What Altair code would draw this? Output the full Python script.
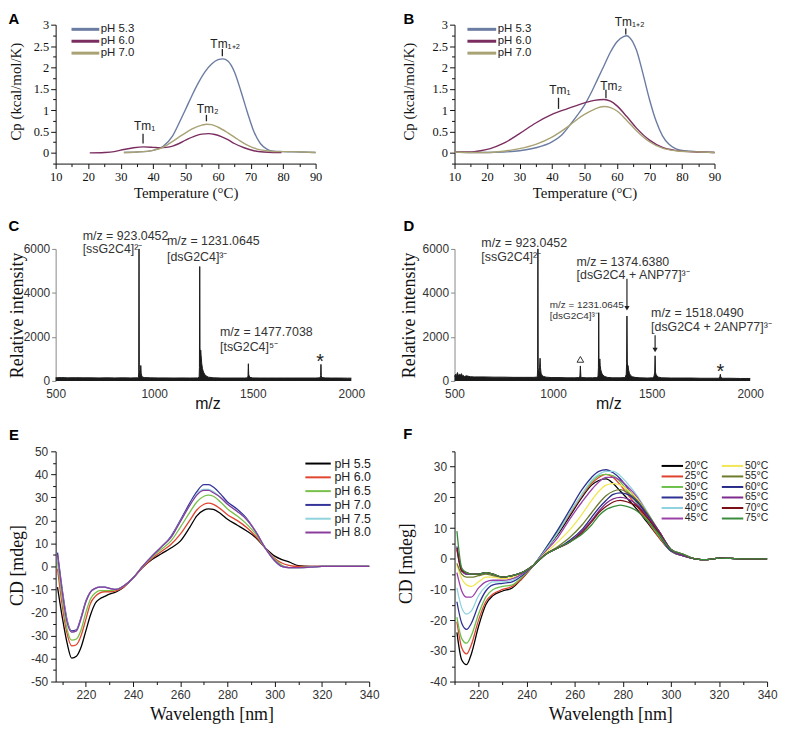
import altair as alt
import pandas as pd

SERIF = "Liberation Serif"
SANS = "Liberation Sans"

# ---------------- Panel A : DSC ----------------
A_labels = ["pH 5.3", "pH 6.0", "pH 7.0"]
A_colors = ["#6b7ca3", "#7b2d60", "#a8a274"]
A_T_53 = [31, 35, 40, 43, 46, 48, 50, 52, 54, 56, 58, 60, 61.5, 63, 65, 67, 69, 71, 73, 75, 77, 80, 85, 90]
A_cp_53 = [0.01, 0.02, 0.06, 0.15, 0.4, 0.7, 1.02, 1.35, 1.65, 1.9, 2.08, 2.18, 2.2, 2.15, 1.9, 1.45, 0.95, 0.5, 0.22, 0.09, 0.04, 0.03, 0.02, 0.01]
A_T_60 = [20.5, 25, 28, 31, 34, 37, 40, 42, 44, 46, 48, 50, 53, 55, 57, 59, 61, 63, 65, 68, 71, 74, 77, 79.5]
A_cp_60 = [0.0, 0.01, 0.03, 0.08, 0.12, 0.14, 0.13, 0.12, 0.13, 0.16, 0.22, 0.3, 0.4, 0.44, 0.45, 0.43, 0.38, 0.31, 0.22, 0.12, 0.05, 0.02, 0.01, 0.01]
A_T_70 = [31, 35, 40, 43, 46, 49, 52, 55, 56.5, 58, 60, 63, 66, 69, 72, 75, 78, 82, 86, 90]
A_cp_70 = [0.01, 0.02, 0.06, 0.13, 0.27, 0.42, 0.56, 0.65, 0.67, 0.66, 0.6, 0.47, 0.32, 0.18, 0.09, 0.05, 0.03, 0.03, 0.02, 0.01]
A_tm_text = ["Tm\u2081", "Tm\u2082", "Tm\u2081\u208a\u2082"]
A_tm_x = [36.9, 56.4, 61.3]
A_tm_y1 = [0.22, 0.74, 2.26]
A_tm_y2 = [0.45, 0.89, 2.43]
A_tml_x = [37.4, 56.8, 62.2]
A_tml_y = [0.64, 1.02, 2.55]

# ---------------- Panel B : DSC ----------------
B_T_53 = [10, 15, 20, 25, 30, 35, 40, 43, 46, 48, 50, 52, 54, 56, 58, 60, 62, 63, 64, 66, 68, 70, 72, 74, 76, 78, 80, 85, 90]
B_cp_53 = [0.02, 0.01, 0.01, 0.02, 0.05, 0.12, 0.26, 0.42, 0.7, 0.9, 1.12, 1.4, 1.72, 2.04, 2.36, 2.6, 2.72, 2.74, 2.69, 2.4, 1.85, 1.25, 0.75, 0.4, 0.2, 0.1, 0.06, 0.03, 0.01]
B_T_60 = [10, 15, 18, 21, 25, 30, 35, 40, 45, 50, 53, 56, 58, 60, 63, 66, 70, 74, 78, 82, 86, 90]
B_cp_60 = [0.02, 0.02, 0.05, 0.1, 0.22, 0.45, 0.7, 0.9, 1.04, 1.17, 1.23, 1.25, 1.21, 1.1, 0.85, 0.58, 0.3, 0.13, 0.06, 0.03, 0.02, 0.01]
B_T_70 = [10, 15, 20, 25, 30, 35, 40, 45, 48, 50, 53, 56, 58, 60, 63, 66, 70, 74, 78, 82, 86, 90]
B_cp_70 = [0.02, 0.01, 0.01, 0.04, 0.1, 0.2, 0.37, 0.62, 0.8, 0.9, 1.02, 1.085, 1.06, 0.98, 0.76, 0.52, 0.26, 0.11, 0.05, 0.03, 0.02, 0.01]
B_tm_x = [42.0, 56.6, 62.7]
B_tm_y1 = [1.03, 1.28, 2.77]
B_tm_y2 = [1.29, 1.48, 2.91]
B_tml_x = [42.4, 58.2, 63.9]
B_tml_y = [1.48, 1.57, 3.05]

# ---------------- Panel C : MS ----------------
C_mz = [500, 530, 560, 600, 640, 680, 720, 760, 800, 840, 880, 915, 920, 921.5, 923, 924.5, 927, 930, 932, 934, 937, 942, 950,
        980, 1020, 1060, 1100, 1140, 1180, 1220, 1228, 1229.5, 1231, 1232.5, 1234, 1236, 1238, 1241, 1245, 1250, 1256, 1264,
        1275, 1300, 1340, 1380, 1420, 1460, 1474, 1476, 1477.7, 1479.5, 1482, 1486, 1500, 1540, 1580, 1620, 1660, 1700, 1740,
        1780, 1820, 1842, 1844.5, 1846, 1847.5, 1850, 1870, 1900, 1940, 1980, 2000]
C_int = [140, 150, 140, 145, 140, 140, 135, 140, 135, 140, 135, 140, 150, 400, 6000, 500, 250, 350, 700, 350, 220, 170, 150,
         140, 135, 135, 130, 135, 130, 135, 160, 600, 5200, 1500, 1100, 1400, 1150, 800, 550, 400, 300, 220,
         170, 140, 130, 130, 130, 130, 140, 250, 780, 300, 220, 160, 135, 130, 130, 130, 130, 130, 130,
         130, 130, 140, 250, 750, 250, 150, 135, 130, 130, 125, 125]
C_ann_text = ["m/z = 923.0452", "[ssG2C4]\u00b2\u207b", "m/z = 1231.0645", "[dsG2C4]\u00b3\u207b", "m/z = 1477.7038", "[tsG2C4]\u2075\u207b"]
C_ann_x = [637, 637, 1065, 1065, 1334, 1334]
C_ann_y = [6586, 6000, 6361, 5652, 2210, 1547]
C_star_x = [1842]
C_star_y = [1037]

# ---------------- Panel D : MS ----------------
D_mz = [500, 505, 510, 515, 520, 525, 530, 535, 540, 545, 550, 560, 580, 600, 650, 700, 750, 800, 850, 900, 915, 920, 921.5,
        923, 924.5, 927, 931, 934, 936, 939, 944, 952, 965, 990, 1030, 1070, 1110, 1130, 1136, 1138.5, 1141, 1146, 1170, 1200,
        1222, 1228, 1230, 1231.5, 1233, 1235, 1237, 1239, 1242, 1247, 1253, 1262, 1275, 1300, 1340, 1366, 1371, 1373, 1374.7,
        1376.5, 1378, 1380, 1383, 1387, 1393, 1402, 1415, 1440, 1480, 1505, 1512, 1515.5, 1517.5, 1519.5, 1522, 1527, 1535,
        1550, 1600, 1650, 1700, 1750, 1800, 1840, 1846, 1848.5, 1851, 1860, 1900, 1950, 2000]
D_int = [200, 300, 250, 380, 220, 300, 260, 330, 220, 250, 200, 230, 190, 180, 180, 170, 170, 160, 160, 160, 170, 200, 500,
         6000, 600, 300, 500, 1030, 600, 350, 250, 200, 170, 150, 150, 140, 140, 150, 200, 680, 200, 150, 140, 140,
         150, 200, 600, 3100, 800, 600, 1000, 700, 500, 350, 260, 200, 160, 140, 140, 150, 300, 800, 2950,
         900, 600, 700, 500, 350, 250, 190, 160, 140, 130, 140, 200, 400, 1140, 400, 300, 220, 170,
         140, 130, 130, 130, 120, 120, 120, 180, 300, 150, 120, 120, 110, 110]
D_ann_text = ["m/z = 923.0452", "[ssG2C4]\u00b2\u207b", "m/z = 1374.6380", "[dsG2C4 + ANP77]\u00b3\u207b",
              "m/z = 1518.0490", "[dsG2C4 + 2ANP77]\u00b3\u207b"]
D_ann_x = [636, 636, 1119, 1119, 1497, 1497]
D_ann_y = [6284, 5639, 5413, 4813, 3067, 2449]
D_small_text = ["m/z = 1231.0645", "[dsG2C4]\u00b3\u207b"]
D_small_x = [983, 983]
D_small_y = [3428, 2946]
D_arrow_x = [1374.7, 1517.5]
D_arrow_top = [4646, 2075]
D_arrow_tip = [3300, 1400]
D_tri_x = [1138.5]
D_tri_y = [979]
D_star_x = [1849]
D_star_y = [573]

# ---------------- Panel E : CD vs pH ----------------
E_labels = ["pH 5.5", "pH 6.0", "pH 6.5", "pH 7.0", "pH 7.5", "pH 8.0"]
E_colors = ["#000000", "#e0452f", "#78c04a", "#34349a", "#8fd3dc", "#8a3c9c"]
E_wl = [208, 210, 212, 214, 216, 218, 220, 222, 224, 226, 228, 230, 233, 236, 240, 244, 248, 252, 256, 260, 264, 267, 270,
        272, 274, 277, 280, 284, 288, 292, 296, 300, 303, 306, 310, 315, 320, 330, 340]
E_55 = [-9, -22, -33, -39.8, -39, -35, -28, -21, -16, -14, -13, -12, -11, -9, -5, -0.5, 3, 5.5, 8, 11, 17, 22, 24.5,
        25, 24.8, 23, 20.5, 18, 15.5, 12.5, 8, 4.5, 3, 2, 0.3, 0, 0, 0, 0]
E_60 = [-1, -17, -29, -34.5, -34, -30, -23, -16, -13, -11.5, -11, -11, -10.5, -9, -5, -0.5, 3.5, 6.5, 9.5, 14, 20, 24.5, 27,
        27.5, 27, 25, 22.5, 20, 17, 13, 8, 3.5, 1.5, 0.5, 0, 0, 0, 0, 0]
E_65 = [2, -14, -27, -32, -31.5, -27.5, -20, -14, -11.5, -10.5, -10.5, -10.5, -10, -8.5, -5, 0, 4, 7.5, 11, 17, 23.5, 28, 30.5,
        31, 30.5, 28, 25, 22, 18.5, 14, 8, 3, 0.5, -0.5, -0.5, -0.2, 0, 0, 0]
E_70 = [6, -10, -23, -28, -27.5, -22, -15, -11, -9.5, -9, -9, -9.5, -10, -8.5, -5, 0, 4.5, 8.5, 13, 20, 27.5, 32.5, 35.5,
        35.5, 34.5, 31.5, 28, 25, 21, 15, 8, 2.5, 0, -0.5, -0.5, -0.3, 0, 0, 0]
E_75 = [4, -11, -23.5, -28.5, -28, -22.5, -15.5, -11, -9.5, -9, -9, -9.5, -10, -8.5, -5, 0, 4.5, 8.5, 12.5, 19.5, 26.5, 31.5,
        33.5, 33.5, 32.5, 30, 27, 24, 20.5, 15, 8, 2.5, 0, -0.5, -0.5, -0.3, 0, 0, 0]
E_80 = [5, -11, -24, -28.5, -28, -22.5, -15.5, -11, -9.5, -9, -9, -9.5, -10, -8.5, -5, 0, 4.5, 8.5, 12.5, 19.5, 26.5, 31,
        33, 33, 32, 30, 27, 24, 20.5, 15, 8, 2.5, 0, -0.5, -0.5, -0.3, 0, 0, 0]

# ---------------- Panel F : CD vs temperature ----------------
F_labels = ["20°C", "25°C", "30°C", "35°C", "40°C", "45°C", "50°C", "55°C", "60°C", "65°C", "70°C", "75°C"]
F_colors = ["#000000", "#e0412f", "#6cc04a", "#2e3192", "#8fd3e0", "#9a40a8",
            "#f2e655", "#6b7b2a", "#262a86", "#7e2b8f", "#7a1015", "#3a8c3c"]
F_wl = [211, 213, 215, 217, 220, 223, 226, 230, 234, 238, 243, 248, 253, 258, 263, 267, 270, 273, 276, 279, 282, 286, 290,
        295, 300, 305, 310, 315, 320, 330, 340]
F_20 = [-24, -33, -34.5, -31, -22, -15, -12, -10.5, -9.5, -6.5, -2, 3, 8, 14, 20, 24, 25.5, 26, 24.5, 22, 19.5, 16, 12, 7, 2.5, 1, 0, -0.3, 0.2, 0, 0]
F_25 = [-20.5, -29, -31, -28, -20, -14, -11.5, -10, -9, -6.5, -2, 3, 8.5, 14.5, 20.5, 24.5, 26.5, 27.5, 26.5, 24, 21, 17, 12.5, 7, 2.5, 1, 0, -0.3, 0.2, 0, 0]
F_30 = [-19, -26, -27.5, -25, -18, -12.5, -10, -9, -8.5, -6, -2, 3.5, 9, 15, 21, 25, 27, 27.5, 27, 25, 22, 18, 13, 7.5, 2.5, 1, 0, -0.3, 0.2, 0, 0]
F_35 = [-14, -21, -23, -21, -15, -10.5, -8.5, -8, -7.5, -5.5, -2, 3.5, 9.5, 16, 22.5, 26.5, 28.5, 29, 28, 26, 23, 19, 14, 8, 2.5, 1, 0, -0.3, 0.2, 0, 0]
F_40 = [-9.5, -16, -18, -17, -12, -9, -7.5, -7.5, -7, -5, -2, 3, 8.5, 15, 21, 25.5, 27.5, 28.5, 28.5, 27, 24.5, 20.5, 15.5, 9, 3, 1, 0, -0.3, 0.2, 0, 0]
F_45 = [-4.5, -10.5, -12.5, -12.5, -9.5, -7.5, -7, -7, -6.5, -5, -2, 2.5, 7, 13, 18.5, 22.5, 25, 26.5, 26.5, 25.5, 23.5, 20, 15, 9, 3, 1, 0, -0.3, 0.2, 0, 0]
F_50 = [-2, -6.5, -8.5, -9, -7.5, -6, -6, -6.5, -6, -4.5, -2, 2, 5.5, 9.5, 14.5, 19, 22, 24, 24.5, 24, 22.5, 19.5, 15, 9, 3, 1, 0, -0.3, 0.2, 0, 0]
F_55 = [-1.5, -5, -6, -6, -5.5, -5, -5.5, -6, -5.5, -4.5, -2, 1.5, 4, 7, 11, 15, 18, 20.5, 22, 22.5, 21.5, 19, 15, 9, 3, 1, 0, -0.3, 0.2, 0, 0]
F_60 = [4, -3.5, -5, -5, -5, -4.5, -5, -6, -5.5, -4.5, -2, 1.5, 3.5, 6, 9.5, 13.5, 16.5, 19, 21, 21.5, 21, 18.5, 14.5, 9, 3, 1, 0, -0.3, 0.2, 0, 0]
F_65 = [3, -4, -5, -5, -5, -4.5, -5, -6, -5.5, -4.5, -2, 1.5, 3.5, 5.5, 9, 12.5, 15.5, 18, 19.5, 20, 19.5, 17.5, 14, 9, 3, 1, 0, -0.3, 0.2, 0, 0]
F_70 = [3.5, -4, -4.5, -5, -5, -4.5, -5, -6, -5.5, -4.5, -2, 1.5, 3.5, 5.5, 8.5, 12, 15, 17, 18.5, 19, 18.5, 17, 13.5, 8.5, 3, 1.5, 0, -0.3, 0.2, 0, 0]
F_75 = [9, -3, -4.5, -5, -5, -4.5, -5, -6, -5.5, -4.5, -2, 1.5, 3.5, 5.5, 8, 11, 14, 16, 17, 17.5, 17, 15.5, 12.5, 8, 3, 1.5, 0, -0.3, 0.2, 0, 0]


# ---------------- helpers ----------------
def series_df(names, xs_list, ys_list):
    rows = []
    for n, xs, ys in zip(names, xs_list, ys_list):
        rows += [{"s": n, "x": x, "y": y} for x, y in zip(xs, ys)]
    return pd.DataFrame(rows)


def make_axis(values, mod, lfont, lsize, lcolor, tcolor, dcolor, title, tfont, tsize, tx, ty,
              major=5, minor=3, lpad=2, offset=0, domain=True, ticks=True):
    kw = dict(values=values,
              labelExpr=f"datum.value % {mod} === 0 ? '' + datum.value : ''",
              labelFont=lfont, labelFontSize=lsize, labelColor=lcolor, labelPadding=lpad,
              labelFlush=False, labelOverlap=False, grid=False,
              domain=domain, domainColor=dcolor, domainWidth=1,
              ticks=ticks, tickColor=tcolor, tickWidth=1,
              title=title, titleFont=tfont, titleFontSize=tsize, titleFontWeight="normal",
              titleColor="#111", titleX=tx, titleY=ty, titleAlign="center", titleBaseline="middle")
    if ticks:
        kw["tickSize"] = {"condition": {"test": f"datum.value % {mod} === 0", "value": major}, "value": minor}
    else:
        kw["tickSize"] = 0
    if offset:
        kw["offset"] = offset
    return alt.Axis(**kw)


def one(txt):
    return pd.DataFrame({"t": [txt]})


def letter_layer(letter, x, y):
    return alt.Chart(one(letter)).mark_text(font=SANS, fontSize=15, fontWeight="bold", align="center",
                                            baseline="middle", color="#000").encode(
        x=alt.value(x), y=alt.value(y), text="t:N")


def legend_layers(labels, colors, x0, x1, tx, y0, dy, sw, fs, ncol_rows=None, col_dx=0):
    layers = []
    for i, (lab, col) in enumerate(zip(labels, colors)):
        if ncol_rows:
            c, r = divmod(i, ncol_rows)
        else:
            c, r = 0, i
        yy = y0 + r * dy
        off = c * col_dx
        layers.append(alt.Chart(one(lab)).mark_rule(color=col, strokeWidth=sw).encode(
            x=alt.value(x0 + off), x2=alt.value(x1 + off), y=alt.value(yy)))
        layers.append(alt.Chart(one(lab)).mark_text(font=SANS, fontSize=fs, align="left", baseline="middle",
                                                    color="#222").encode(
            x=alt.value(tx + off), y=alt.value(yy), text="t:N"))
    return layers


# ---------------- DSC panels ----------------
def dsc_panel(letter, dfc, tm_x, tm_y1, tm_y2, tml_x, tml_y, leg_x0, leg_x1, leg_tx, let_xy, ytitle_x, anchor=False):
    xs = alt.Scale(domain=[10, 90], nice=False, zero=False)
    ys = alt.Scale(domain=[-0.25, 3], range=[140, 0], nice=False, zero=False)
    xa = make_axis(list(range(10, 95, 5)), 10, SERIF, 12.5, "#111", "#111", "#111",
                   "Temperature (°C)", SERIF, 15, 131, 29, major=5, minor=3, lpad=2, offset=-15)
    ya = make_axis([-0.25 + 0.25 * i for i in range(14)], 0.5, SERIF, 12.5, "#111", "#111", "#111",
                   "Cp (kcal/mol/K)", SERIF, 15, ytitle_x, 67, major=5, minor=3, lpad=2)
    X = alt.X("x:Q", scale=xs, axis=xa)
    Y = alt.Y("y:Q", scale=ys, axis=ya)
    curves = alt.Chart(dfc).mark_line(strokeWidth=1.4, interpolate="monotone").encode(
        x=X, y=Y,
        color=alt.Color("s:N", scale=alt.Scale(domain=A_labels, range=A_colors), legend=None))
    tdf = pd.DataFrame({"x": tm_x, "y": tm_y1, "y2": tm_y2})
    ticks = alt.Chart(tdf).mark_rule(color="#222", strokeWidth=1.3).encode(x=X, y=Y, y2="y2:Q")
    ldf = pd.DataFrame({"x": tml_x, "y": tml_y, "t": A_tm_text})
    labs = alt.Chart(ldf).mark_text(font=SANS, fontSize=12, color="#222", align="center", baseline="middle").encode(
        x=X, y=Y, text="t:N")
    layers = [curves, ticks, labs]
    layers += legend_layers(A_labels, A_colors, leg_x0, leg_x1, leg_tx, 4.7, 12, 3, 11.5)
    layers.append(letter_layer(letter, *let_xy))
    if anchor:
        layers.append(alt.Chart(one("a")).mark_rect(opacity=0).encode(
            x=alt.value(-48), x2=alt.value(-47), y=alt.value(-14), y2=alt.value(-13)))
    return alt.layer(*layers).properties(width=262, height=155)


dfA = series_df(A_labels, [A_T_53, A_T_60, A_T_70], [A_cp_53, A_cp_60, A_cp_70])
dfB = series_df(A_labels, [B_T_53, B_T_60, B_T_70], [B_cp_53, B_cp_60, B_cp_70])
pA = dsc_panel("A", dfA, A_tm_x, A_tm_y1, A_tm_y2, A_tml_x, A_tml_y, 16, 44, 45.5, (-42, -6), -40.5, anchor=True)
pB = dsc_panel("B", dfB, B_tm_x, B_tm_y1, B_tm_y2, B_tml_x, B_tml_y, 13, 42, 43.5, (-46, -6), -46)


# ---------------- MS panels ----------------
def ms_panel(letter, mz, inten, ann_x, ann_y, ann_t, star_x, star_y, let_xy, ytitle_x, xtitle_x, extra=()):
    xs = alt.Scale(domain=[500, 2000], nice=False, zero=False)
    ys = alt.Scale(domain=[0, 6000], nice=False, zero=False)
    xa = make_axis([500, 1000, 1500, 2000], 500, SANS, 12, "#333", "#888", "#888", "m/z", SANS, 16,
                   xtitle_x, 22.5, lpad=8, domain=False, ticks=False)
    ya = make_axis([0, 2000, 4000, 6000], 2000, SANS, 12, "#333", "#888", "#888", "Relative intensity", SERIF, 18,
                   ytitle_x, 66.5, major=4, minor=4, lpad=2)
    X = alt.X("x:Q", scale=xs, axis=xa)
    Y = alt.Y("y:Q", scale=ys, axis=ya)
    df = pd.DataFrame({"x": mz, "y": inten})
    area = alt.Chart(df).mark_area(color="#1b1b1b", interpolate="linear").encode(x=X, y=Y)
    line = alt.Chart(df).mark_line(color="#1b1b1b", strokeWidth=1).encode(x=X, y=Y)
    adf = pd.DataFrame({"x": ann_x, "y": ann_y, "t": ann_t})
    ann = alt.Chart(adf).mark_text(font=SANS, fontSize=12.5, color="#333", align="left", baseline="middle").encode(
        x=X, y=Y, text="t:N")
    sdf = pd.DataFrame({"x": star_x, "y": star_y, "t": ["*"] * len(star_x)})
    star = alt.Chart(sdf).mark_text(font=SANS, fontSize=20, color="#222", align="center", baseline="middle", dy=4).encode(
        x=X, y=Y, text="t:N")
    layers = [area, line, ann, star]
    for mk in extra:
        layers.append(mk(X, Y))
    layers.append(letter_layer(letter, *let_xy))
    return alt.layer(*layers).properties(width=298, height=133)


def d_small(X, Y):
    df = pd.DataFrame({"x": D_small_x, "y": D_small_y, "t": D_small_text})
    return alt.Chart(df).mark_text(font=SANS, fontSize=10, color="#333", align="left", baseline="middle").encode(
        x=X, y=Y, text="t:N")


def d_arrows(X, Y):
    df = pd.DataFrame({"x": D_arrow_x, "y": D_arrow_top, "y2": D_arrow_tip})
    return alt.Chart(df).mark_rule(color="#222", strokeWidth=1.2).encode(x=X, y=Y, y2="y2:Q")


def d_heads(X, Y):
    df = pd.DataFrame({"x": D_arrow_x, "y": D_arrow_tip})
    return alt.Chart(df).mark_point(shape="triangle-down", filled=True, size=28, color="#222", opacity=1).encode(
        x=X, y=Y)


def d_tri(X, Y):
    df = pd.DataFrame({"x": D_tri_x, "y": D_tri_y})
    return alt.Chart(df).mark_point(shape="triangle-up", filled=False, size=45, color="#333", strokeWidth=1,
                                    opacity=1).encode(x=X, y=Y)


pC = ms_panel("C", C_mz, C_int, C_ann_x, C_ann_y, C_ann_text, C_star_x, C_star_y, (-42, -23), -38, 153)
pD = ms_panel("D", D_mz, D_int, D_ann_x, D_ann_y, D_ann_text, D_star_x, D_star_y, (-46, -23), -45, 155,
              extra=(d_small, d_arrows, d_heads, d_tri))


# ---------------- CD panels ----------------
def cd_panel(letter, dfc, labels, colors, xdom, ydom, xvals, yvals, width, let_xy, ytitle_x, ytitle_y, xtitle_x, legend):
    xs = alt.Scale(domain=xdom, nice=False, zero=False)
    ys = alt.Scale(domain=ydom, nice=False, zero=False)
    xa = make_axis(xvals, 20, SANS, 12, "#333", "#111", "#111", "Wavelength [nm]", SERIF, 18,
                   xtitle_x, 33, major=5, minor=3, lpad=3)
    ya = make_axis(yvals, 10, SANS, 12, "#333", "#111", "#111", "CD [mdeg]", SERIF, 18,
                   ytitle_x, ytitle_y, major=5, minor=3, lpad=3)
    curves = alt.Chart(dfc).mark_line(strokeWidth=1.3, interpolate="monotone").encode(
        x=alt.X("x:Q", scale=xs, axis=xa),
        y=alt.Y("y:Q", scale=ys, axis=ya),
        color=alt.Color("s:N", scale=alt.Scale(domain=labels, range=colors), legend=None))
    layers = [curves] + legend + [letter_layer(letter, *let_xy)]
    return alt.layer(*layers).properties(width=width, height=232)


dfE = series_df(E_labels, [E_wl] * 6, [E_55, E_60, E_65, E_70, E_75, E_80])
dfF = series_df(F_labels, [F_wl] * 12, [F_20, F_25, F_30, F_35, F_40, F_45, F_50, F_55, F_60, F_65, F_70, F_75])

legE = legend_layers(E_labels, E_colors, 251.7, 277.3, 281, 12.3, 13.9, 2, 12.5)
legF = legend_layers(F_labels, F_colors, 208.7, 230.3, 232, 14.7, 10.6, 2, 10.5, ncol_rows=6, col_dx=60.7)

pE = cd_panel("E", dfE, E_labels, E_colors, [207.2, 340], [-50, 50], list(range(210, 341, 10)),
              list(range(-50, 51, 5)), 316, (-42, -16.5), -38.5, 114.5, 157, legE)
pF = cd_panel("F", dfF, F_labels, F_colors, [210, 340], [-40, 35], list(range(210, 341, 10)),
              list(range(-40, 36, 5)), 315, (-47, -17), -48, 112.7, 157, legF)

chart = alt.concat(pA, pB, pC, pD, pE, pF, columns=2, spacing={"row": 71, "column": 86},
                   bounds="flush", align="each").resolve_scale(color="independent").properties(
    padding=0).configure(font=SANS).configure_view(strokeWidth=0)

chart.save("out.html", embed_options={"renderer": "svg", "actions": False})
